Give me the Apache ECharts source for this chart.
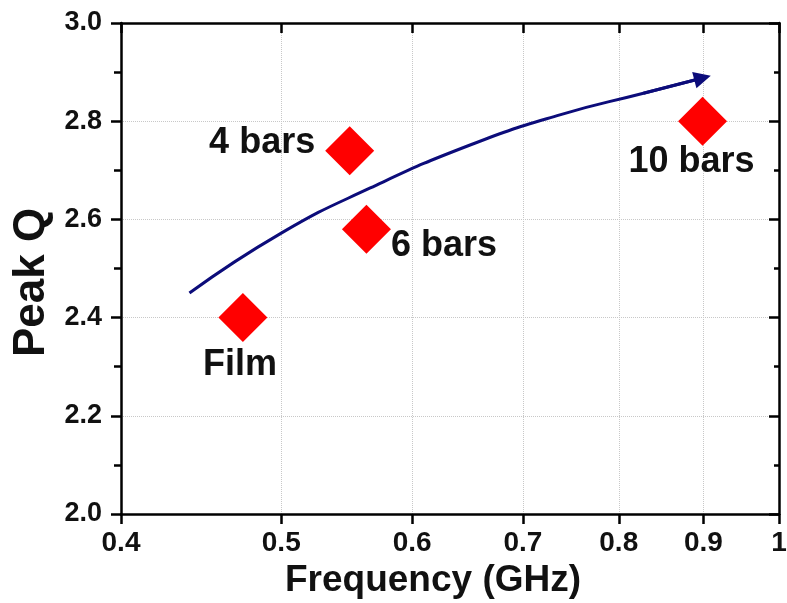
<!DOCTYPE html>
<html>
<head>
<meta charset="utf-8">
<script src="https://cdn.jsdelivr.net/npm/echarts@6/dist/echarts.min.js"></script>
<style>
  html, body { margin: 0; padding: 0; background: #fff; }
  #chart { width: 787px; height: 603px; }
</style>
</head>
<body>
<div id="chart"></div>
<script>
// samples: frequency (GHz) and peak Q
var sampleNames = ['Film', '4 bars', '6 bars', '10 bars'];
var sampleFreq = [0.474, 0.550, 0.563, 0.899];
var samplePeakQ = [2.40, 2.74, 2.58, 2.80];

// hand drawn trend arrow
var trendFreq = [0.440, 0.500, 0.566, 0.651, 0.737, 0.828, 0.899];
var trendQ = [2.450, 2.572, 2.664, 2.752, 2.813, 2.857, 2.888];

var xTicks = [0.4, 0.5, 0.6, 0.7, 0.8, 0.9, 1];

var font = '"Liberation Sans", Arial, sans-serif';

// label placement per sample
var labelCfg = [
    { position: 'bottom', distance: 5, offset: [-3, 0] },
    { position: 'left', distance: 10, offset: [0, -8] },
    { position: 'right', distance: 0, offset: [0, 17] },
    { position: 'bottom', distance: -2, offset: [-11, 0] }
];

var myChart = echarts.init(document.getElementById('chart'));

var points = sampleFreq.map(function (f, i) {
    return {
        value: [f, samplePeakQ[i]],
        name: sampleNames[i],
        label: labelCfg[i]
    };
});
var trend = trendFreq.map(function (f, i) { return [f, trendQ[i]]; });
var n = trend.length;

var axisLine = { lineStyle: { color: '#000', width: 2.5 } };

myChart.setOption({
    backgroundColor: '#fff',
    animation: false,
    grid: { left: 121, right: 8, top: 23, bottom: 89, outerBoundsMode: 'none' },
    xAxis: [
        {
            type: 'log', logBase: 10, min: 0.4, max: 1,
            name: 'Frequency (GHz)', nameLocation: 'middle', nameGap: 43,
            nameTextStyle: {
                fontFamily: font, fontWeight: 'bold', fontSize: 37, color: '#111',
                padding: [0, 34, 0, 0]
            },
            axisLine: axisLine,
            axisTick: { customValues: xTicks, inside: false, length: 10, lineStyle: { color: '#000', width: 2.5 } },
            axisLabel: {
                customValues: xTicks, margin: 15,
                fontFamily: font, fontWeight: 'bold', fontSize: 28, color: '#111',
                formatter: function (v) { return String(+(+v).toFixed(2)); }
            },
            splitLine: { show: true, lineStyle: { color: '#c8c8c8', type: 'dotted', width: 1 } },
            minorTick: { show: false }
        },
        {
            type: 'log', logBase: 10, min: 0.4, max: 1, position: 'top',
            axisLine: axisLine,
            axisTick: { customValues: xTicks, inside: true, length: 10, lineStyle: { color: '#000', width: 2.5 } },
            axisLabel: { show: false },
            splitLine: { show: false }
        }
    ],
    yAxis: [
        {
            type: 'value', min: 2.0, max: 3.0, interval: 0.2,
            name: 'Peak Q', nameLocation: 'middle', nameGap: 66,
            nameTextStyle: {
                fontFamily: font, fontWeight: 'bold', fontSize: 44, color: '#111',
                padding: [0, 28, 0, 0]
            },
            axisLine: axisLine,
            axisTick: { inside: false, length: 10, lineStyle: { color: '#000', width: 2.5 } },
            minorTick: { show: true, splitNumber: 2, length: 7, lineStyle: { color: '#000', width: 2.5 } },
            axisLabel: {
                margin: 19, fontFamily: font, fontWeight: 'bold', fontSize: 27, color: '#111',
                formatter: function (v) { return v.toFixed(1); }
            },
            splitLine: { show: true, lineStyle: { color: '#c8c8c8', type: 'dotted', width: 1 } }
        },
        {
            type: 'value', min: 2.0, max: 3.0, interval: 0.2, position: 'right',
            axisLine: axisLine,
            axisTick: { inside: true, length: 10, lineStyle: { color: '#000', width: 2.5 } },
            minorTick: { show: true, splitNumber: 2, length: 5, lineStyle: { color: '#000', width: 2.5 } },
            axisLabel: { show: false },
            splitLine: { show: false }
        }
    ],
    series: [
        {
            type: 'line',
            data: trend,
            smooth: true,
            showSymbol: false,
            lineStyle: { color: '#0c0c7a', width: 3 },
            z: 3
        },
        {
            type: 'lines',
            coordinateSystem: 'cartesian2d',
            symbol: ['none', 'triangle'],
            symbolSize: [0, 17],
            lineStyle: { color: '#0c0c7a', width: 3, opacity: 1 },
            data: [{ coords: [trend[n - 2], trend[n - 1]] }],
            z: 3
        },
        {
            type: 'scatter',
            data: points,
            symbol: 'diamond',
            symbolSize: [49, 49],
            itemStyle: { color: '#ff0000', opacity: 1 },
            label: {
                show: true,
                formatter: '{b}',
                fontFamily: font, fontWeight: 'bold', fontSize: 36, color: '#111'
            },
            z: 4
        }
    ]
});
</script>
</body>
</html>
